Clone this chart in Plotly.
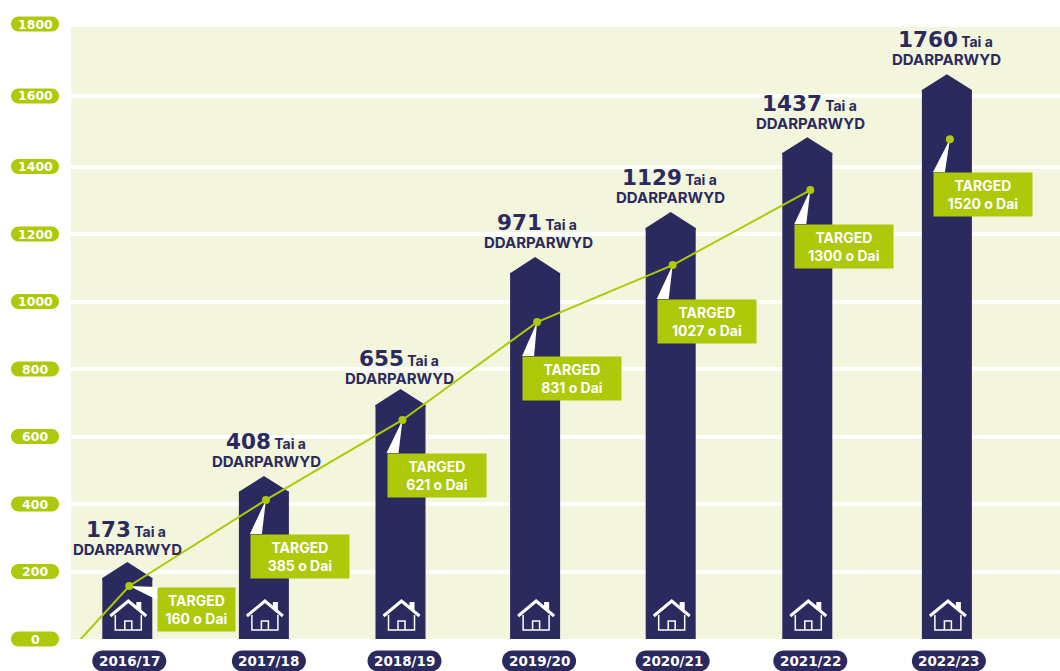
import plotly.graph_objects as go

# ---- data ----
categories = ["2016/17", "2017/18", "2018/19", "2019/20", "2020/21", "2021/22", "2022/23"]
delivered = [173, 408, 655, 971, 1129, 1437, 1760]
targets = [160, 385, 621, 831, 1027, 1300, 1520]
# heights as drawn against the axis
bar_shoulder = [181, 436, 693, 1084, 1218, 1440, 1627]
bar_tip = [228, 483, 741, 1132, 1265, 1487, 1673]
target_drawn = [157, 412, 649, 939, 1108, 1330, 1481]
line_start = -9
y_ticks = [0, 200, 400, 600, 800, 1000, 1200, 1400, 1600, 1800]
y_tick_drawn = [0, 200, 400, 600, 800, 1000, 1200, 1400, 1609, 1822]

# ---- layout / style ----
W, H = 1060, 671
LEFT, TOP, BOTTOM = 71, 27, 639
PX_PER_UNIT = 0.3375
YMAX = (BOTTOM - TOP) / PX_PER_UNIT
X0, STEP = 127.3, 136.6
NAVY, GREEN, BG = "#2b2a5e", "#adc90a", "#f3f5dc"
FONT = "Inter"
WIDE = "DejaVu Sans"

bar_nudge = [0, 0, 0, -2, -3, -3, 0]
dot_nudge = [2, 2, 2, 0, -1, 0, 3]
pill_nudge = [2, 5, 4, 2, -1, 0, 2]
label_nudge = [0, 3, -1, 1, -3, 0, 0]
label_lift = [1, 3, -1, 3, 3, 2, 3]
box_dx = [28, -16, -16, -15, -16, -16, -17]
box_dy = [1, 34, 33, 34, 34, 34, 33]

x_of = lambda i, nudge=0: i + nudge / STEP
dx = lambda px: px / STEP
dy = lambda px: px / PX_PER_UNIT
yfrac = lambda v: v / YMAX

def rounded(w, h):
    r = h / 2
    return (f"M {-w/2+r} {-r} L {w/2-r} {-r} "
            f"C {w/2-r*0.45} {-r} {w/2} {-r*0.55} {w/2} 0 "
            f"C {w/2} {r*0.55} {w/2-r*0.45} {r} {w/2-r} {r} "
            f"L {-w/2+r} {r} "
            f"C {-w/2+r*0.45} {r} {-w/2} {r*0.55} {-w/2} 0 "
            f"C {-w/2} {-r*0.55} {-w/2+r*0.45} {-r} {-w/2+r} {-r} Z")

fig = go.Figure()

bar_x = [x_of(i, bar_nudge[i]) for i in range(7)]
dot_x = [x_of(i, dot_nudge[i]) for i in range(7)]

fig.add_trace(go.Bar(x=bar_x, y=bar_shoulder, width=dx(50), marker=dict(color=NAVY, line_width=0),
                     hoverinfo="skip"))
half = dx(25)
for x, s, t in zip(bar_x, bar_shoulder, bar_tip):
    low = s - dy(2)
    fig.add_trace(go.Scatter(x=[x - half, x - half, x, x + half, x + half, x - half],
                             y=[low, s, t, s, low, low], mode="lines",
                             fill="toself", fillcolor=NAVY, line=dict(width=0), hoverinfo="skip"))

# white pointers from each target dot to its box
for i in range(7):
    x, y = dot_x[i], target_drawn[i]
    if i == 0:
        xs = [x, x + dx(box_dx[i]), x + dx(box_dx[i]), x]
        ys = [y, y - dy(1), y - dy(14), y]
    else:
        xs = [x, x + dx(box_dx[i]), x + dx(box_dx[i] + 12), x]
        ys = [y, y - dy(box_dy[i]), y - dy(box_dy[i]), y]
    fig.add_trace(go.Scatter(x=xs, y=ys, mode="lines", fill="toself", fillcolor="white",
                             line=dict(width=0), hoverinfo="skip"))

fig.add_trace(go.Scatter(x=[x_of(0, 78 - X0)] + dot_x[:6], y=[line_start] + target_drawn[:6],
                         mode="lines", line=dict(color=GREEN, width=2), cliponaxis=False,
                         hoverinfo="skip"))
fig.add_trace(go.Scatter(x=dot_x, y=target_drawn, mode="markers",
                         marker=dict(color=GREEN, size=8, line_width=0), hoverinfo="skip"))

shapes, annotations = [], []

# y axis pills
for lab, v in zip(y_ticks, y_tick_drawn):
    shapes.append(dict(type="path", xref="paper", yref="paper", xsizemode="pixel", ysizemode="pixel",
                       xanchor=(35 - LEFT) / (W - LEFT), yanchor=yfrac(v), path=rounded(48, 15),
                       fillcolor=GREEN, line_width=0, layer="above"))
    annotations.append(dict(xref="paper", yref="paper", x=(35 - LEFT) / (W - LEFT), y=yfrac(v),
                            text=f"<b>{lab}</b>", showarrow=False, xanchor="center", yanchor="middle",
                            font=dict(family=WIDE, size=12.5, color="white")))

# category pills
for i, c in enumerate(categories):
    px = x_of(i, pill_nudge[i])
    shapes.append(dict(type="path", xref="x", yref="paper", xsizemode="pixel", ysizemode="pixel",
                       xanchor=px, yanchor=-22 / (BOTTOM - TOP), path=rounded(74, 21),
                       fillcolor=NAVY, line_width=0, layer="above"))
    annotations.append(dict(xref="x", yref="paper", x=px, y=-22 / (BOTTOM - TOP), text=f"<b>{c}</b>",
                            showarrow=False, xanchor="center", yanchor="middle",
                            font=dict(family=WIDE, size=13.5, color="white")))

# houses
roof = "M -18 23 L 0 38 L 18 23"
walls = "M -13 24 L -13 9 L 13 9 L 13 24 M -3.5 9 L -3.5 18 L 3.5 18 L 3.5 9"
chimney = "M 8 31 L 8 37 L 13 37 L 13 26 Z"
for x in bar_x:
    for path, w, fill in ((roof, 3, "rgba(0,0,0,0)"), (walls, 1.5, "rgba(0,0,0,0)"), (chimney, 0, "white")):
        shapes.append(dict(type="path", xref="x", yref="y", xsizemode="pixel", ysizemode="pixel",
                           xanchor=x + dx(1), yanchor=0, path=path, fillcolor=fill,
                           line=dict(color="white", width=w), layer="above"))

# value labels
for i in range(7):
    x = x_of(i, label_nudge[i])
    base = yfrac(bar_tip[i])
    annotations.append(dict(xref="x", yref="paper", x=x, y=base, yshift=label_lift[i], yanchor="bottom",
                            xanchor="center", showarrow=False, text="<b>DDARPARWYD</b>",
                            font=dict(family=FONT, size=15, color=NAVY)))
    annotations.append(dict(xref="x", yref="paper", x=x, y=base, yshift=label_lift[i] + 17, yanchor="bottom",
                            xanchor="center", xshift=-1, showarrow=False,
                            text=f"<b><span style='font-size:21.5px;font-family:\"{WIDE}\"'>{delivered[i]}</span> Tai a</b>",
                            font=dict(family=FONT, size=14, color=NAVY)))

# target boxes
for i in range(7):
    annotations.append(dict(xref="x", yref="paper", x=dot_x[i], y=yfrac(target_drawn[i]),
                            xshift=box_dx[i], yshift=-box_dy[i], xanchor="left", yanchor="top",
                            width=77 if i == 0 else 98, height=43, borderpad=0, bgcolor=GREEN,
                            showarrow=False, align="center", valign="middle",
                            text=f"<b>TARGED<br>{targets[i]} o Dai</b>",
                            font=dict(family=FONT, size=14, color="white")))

fig.update_layout(
    width=W, height=H, autosize=False, showlegend=False,
    margin=dict(l=LEFT, r=0, t=TOP, b=H - BOTTOM, pad=0),
    paper_bgcolor="white", plot_bgcolor=BG,
    shapes=shapes, annotations=annotations,
    xaxis=dict(range=[(LEFT - X0) / STEP, (W - X0) / STEP], showgrid=False, zeroline=False,
               showticklabels=False, ticks="", tickvals=list(range(7)), ticktext=categories),
    yaxis=dict(range=[0, YMAX], tickvals=y_tick_drawn[1:9], showticklabels=False, ticks="",
               showgrid=True, gridcolor="white", gridwidth=4, zeroline=False),
)
fig.write_html("out.html", config={"displayModeBar": False},
               post_script="document.body.style.margin='0';document.body.style.overflow='hidden';")
